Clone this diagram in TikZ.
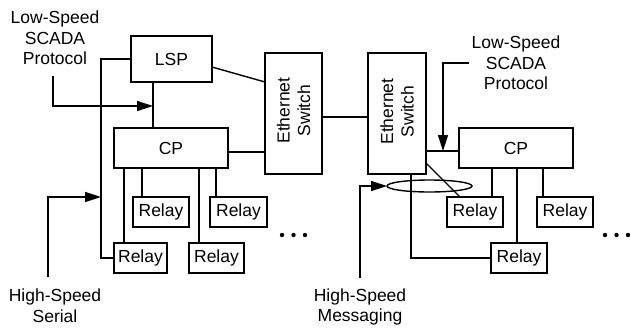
\documentclass[tikz,border=0pt]{standalone}
\usepackage{fontspec}
\setmainfont{Liberation Sans}
\usetikzlibrary{arrows.meta,calc,shapes.geometric}
\begin{document}
\begin{tikzpicture}[x=1bp,y=-1bp,
  line width=1.4bp,
  every node/.style={font=\fontsize{17.5bp}{20.5bp}\selectfont},
  box/.style={draw,rectangle,inner sep=0pt,outer sep=0pt},
  relay/.style={box,minimum width=56bp,minimum height=30bp},
  lbl/.style={align=center,inner sep=0pt},
  arr/.style={-{Triangle[length=16bp,width=10bp]}},
  dot/.style={fill=black}
]
\useasboundingbox (0,0) rectangle (631,329);

% boxes
\node[box,minimum width=81bp,minimum height=46bp] (LSP) at (171.5,59) {LSP};
\node[box,minimum width=114bp,minimum height=40bp] (CPL) at (171,148) {CP};
\node[box,minimum width=57bp,minimum height=121bp] (SWL) at (293.5,113.5) {};
\node[lbl,rotate=90] (SWLt) at ([yshift=3bp]SWL.center) {Ethernet\\Switch};
\node[box,minimum width=58bp,minimum height=121bp] (SWR) at (397,113.5) {};
\node[lbl,rotate=90] (SWRt) at ([yshift=2bp]SWR.center) {Ethernet\\Switch};
\node[box,minimum width=114bp,minimum height=40bp] (CPR) at (516,148) {CP};

\node[relay] (L1) at (161,212) {Relay};
\node[relay,minimum width=57bp] (L2) at (238.5,212) {Relay};
\node[relay,minimum width=53bp] (L3) at (140.5,258) {Relay};
\node[relay,minimum width=55bp] (L4) at (216.5,258) {Relay};
\node[relay] (RA) at (475,212) {Relay};
\node[relay] (RB) at (565,212) {Relay};
\node[relay] (RC) at (519,258) {Relay};

\node[draw,ellipse,inner sep=0pt,outer sep=0pt,minimum width=85bp,minimum height=12bp] (bundle) at (429.5,186) {};

% labels
\node[lbl] (lsl) at (55,38) {Low-Speed\\SCADA\\Protocol};
\node[lbl] (lsr) at (516,63) {Low-Speed\\SCADA\\Protocol};
\node[lbl] (hss) at (55,305.5) {High-Speed\\Serial};
\node[lbl] (hsm) at (360,307) {High-Speed\\Messaging};

% left connectors
\draw ([yshift=-8bp]LSP.east) -- ([yshift=31.5bp]SWL.west);
\draw ([xshift=-18.5bp]LSP.south) -- ([xshift=-18.5bp]LSP.south |- CPL.north);
\coordinate (lsin) at (53,76);
\coordinate (lsjoin) at (153,106);
\draw[arr] (lsin) |- (lsjoin);
\draw (LSP.west) -- ++(-30,0) |- (L3.west);
\coordinate (hsin) at (48,277);
\coordinate (hsjoin) at (101,197);
\draw[arr] (hsin) |- (hsjoin);
\draw ([yshift=-4bp]CPL.east) -- ([yshift=-4bp]CPL.east -| SWL.west);
\draw ([yshift=-3.5bp]SWL.east) -- ([yshift=-3.5bp]SWR.west);
\draw ([xshift=-16.5bp]L3.north) -- ([xshift=-16.5bp]L3.north |- CPL.south);
\draw ([xshift=-19bp]L1.north) -- ([xshift=-19bp]L1.north |- CPL.south);
\draw ([xshift=-17.5bp]L4.north) -- ([xshift=-17.5bp]L4.north |- CPL.south);
\draw ([xshift=-22.5bp]L2.north) -- ([xshift=-22.5bp]L2.north |- CPL.south);

% right connectors
\draw ([yshift=-37.5bp]SWR.east) -- ([yshift=-37.5bp]SWR.east -| CPR.west);
\coordinate (rsin) at (469,63);
\coordinate (rsjoin) at (443,151);
\draw[arr] (rsin) -| (rsjoin);
\draw ([xshift=14bp]SWR.south) |- (RC.west);
\draw ([yshift=11bp]SWR.south east) -- ([xshift=-15bp]RA.north);
\coordinate (hmin) at (360,278);
\draw[arr] (hmin) |- (bundle.west);
\draw ([xshift=17bp]RA.north) -- ([xshift=17bp]RA.north |- CPR.south);
\draw ([xshift=-2bp]RC.north) -- ([xshift=-2bp]RC.north |- CPR.south);
\draw ([xshift=-22bp]RB.north) -- ([xshift=-22bp]RB.north |- CPR.south);

% ellipsis dots
\foreach \x in {282,293.5,305} \fill[dot] (\x,235) circle[radius=2.2bp];
\foreach \x in {605,616.5,628} \fill[dot] (\x,235) circle[radius=2.2bp];
\end{tikzpicture}
\end{document}
